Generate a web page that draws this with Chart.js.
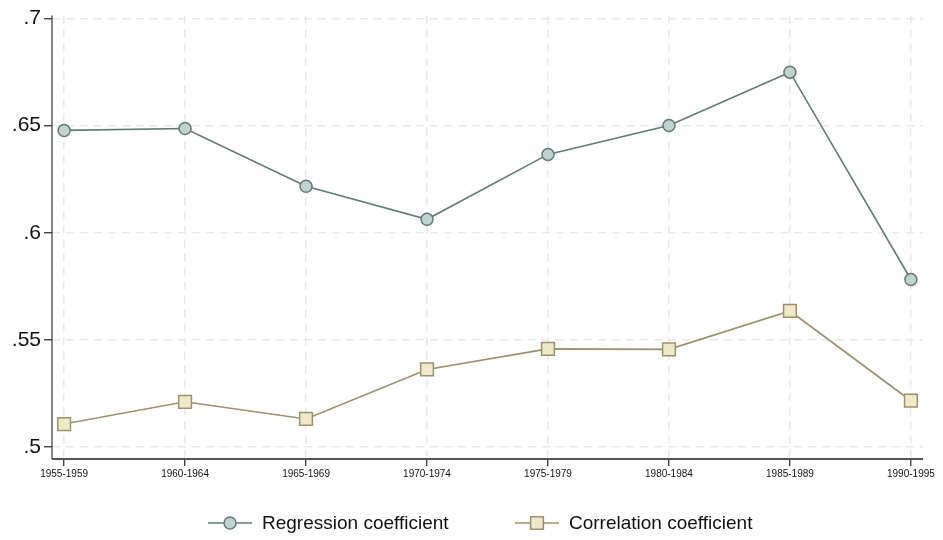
<!DOCTYPE html>
<html>
<head>
<meta charset="utf-8">
<script src="https://cdn.jsdelivr.net/npm/chart.js@4"></script>
<style>
  html, body { margin: 0; padding: 0; background: #fff; }
  #wrap { width: 943px; height: 540px; }
</style>
</head>
<body>
<div id="wrap"><canvas id="canvas" width="943" height="540"></canvas></div>
<script>
// 期間ラベル
var periods = ['1955-1959', '1960-1964', '1965-1969', '1970-1974', '1975-1979', '1980-1984', '1985-1989', '1990-1995'];
// 回帰係数
var regression = [0.6478, 0.6487, 0.6217, 0.6063, 0.6366, 0.6501, 0.6750, 0.5782];
// 相関係数
var correlation = [0.5107, 0.5211, 0.5131, 0.5362, 0.5458, 0.5456, 0.5635, 0.5216];
// y軸の目盛り
var yTicks = [0.5, 0.55, 0.6, 0.65, 0.7];

function toPoints(vals) {
  return vals.map(function (v, i) { return { x: i, y: v }; });
}

function fmt(v) {
  return String(Math.round(v * 100) / 100).replace(/^0\./, '.');
}

// 軸線（実線）と凡例を描く
var extras = {
  id: 'extras',
  afterDatasetsDraw: function (chart) {
    var c = chart.ctx, a = chart.chartArea;
    c.save();
    c.setLineDash([]);
    c.strokeStyle = '#333';
    c.lineWidth = 1.2;
    c.beginPath();
    c.moveTo(a.left, a.top);
    c.lineTo(a.left, a.bottom);
    c.stroke();
    c.strokeStyle = '#555';
    c.lineWidth = 2;
    c.beginPath();
    c.moveTo(a.left, a.bottom);
    c.lineTo(a.right, a.bottom);
    c.stroke();
    c.restore();
  },
  afterDraw: function (chart) {
    var ctx = chart.ctx;
    var y = 523;
    var items = [
      { x: 208, ds: chart.data.datasets[0] },
      { x: 515, ds: chart.data.datasets[1] }
    ];
    ctx.save();
    items.forEach(function (it) {
      var ds = it.ds;
      ctx.strokeStyle = ds.borderColor;
      ctx.lineWidth = 1.6;
      ctx.beginPath();
      ctx.moveTo(it.x, y);
      ctx.lineTo(it.x + 44, y);
      ctx.stroke();
      ctx.fillStyle = ds.pointBackgroundColor;
      ctx.lineWidth = ds.pointBorderWidth;
      ctx.beginPath();
      if (ds.pointStyle === 'circle') {
        ctx.arc(it.x + 22, y, ds.pointRadius, 0, Math.PI * 2);
      } else {
        var s = ds.pointRadius * Math.SQRT1_2;
        ctx.rect(it.x + 22 - s, y - s, 2 * s, 2 * s);
      }
      ctx.fill();
      ctx.stroke();
      ctx.fillStyle = '#111';
      ctx.font = '19px "Liberation Sans", Arial, sans-serif';
      ctx.textBaseline = 'middle';
      ctx.textAlign = 'left';
      ctx.fillText(ds.label, it.x + 54, y + 1);
    });
    ctx.restore();
  }
};

var gridOpts = {
  color: '#e9e9e9',
  lineWidth: 1.5,
  tickColor: '#222',
  tickWidth: 1.2,
  tickBorderDash: []
};

var ctx = document.getElementById('canvas').getContext('2d');
var myChart = new Chart(ctx, {
  type: 'line',
  data: {
    datasets: [{
      label: 'Regression coefficient',
      data: toPoints(regression),
      borderColor: '#5f7b73',
      borderWidth: 1.6,
      pointStyle: 'circle',
      pointRadius: 6,
      pointBorderWidth: 1.5,
      pointBackgroundColor: '#c0d3ce',
      pointBorderColor: '#5f7b73'
    }, {
      label: 'Correlation coefficient',
      data: toPoints(correlation),
      borderColor: '#9c916c',
      borderWidth: 1.6,
      pointStyle: 'rect',
      pointRadius: 9,
      pointBorderWidth: 1.5,
      pointBackgroundColor: '#efe8c9',
      pointBorderColor: '#9c916c'
    }]
  },
  options: {
    responsive: false,
    animation: false,
    layout: { padding: { top: 15, right: 20, bottom: 61, left: 0 } },
    plugins: {
      legend: { display: false },
      tooltip: { enabled: false }
    },
    scales: {
      x: {
        type: 'linear',
        min: -0.1,
        max: 7.1,
        afterBuildTicks: function (axis) {
          axis.ticks = periods.map(function (p, i) { return { value: i }; });
        },
        afterFit: function (axis) { axis.height = 20; },
        ticks: {
          callback: function (v) { return periods[v]; },
          font: { family: '"Liberation Sans", Arial, sans-serif', size: 10 },
          color: '#111',
          maxRotation: 0,
          autoSkip: false,
          padding: 2
        },
        grid: Object.assign({ tickLength: 7 }, gridOpts),
        border: { display: false, dash: [8, 6] }
      },
      y: {
        min: 0.4944,
        max: 0.7014,
        afterBuildTicks: function (axis) {
          axis.ticks = yTicks.map(function (v) { return { value: v }; });
        },
        afterFit: function (axis) { axis.width = 52; },
        ticks: {
          callback: function (v) { return fmt(v); },
          font: { family: '"Liberation Sans", Arial, sans-serif', size: 21 },
          color: '#111',
          padding: 3
        },
        grid: Object.assign({ tickLength: 8 }, gridOpts),
        border: { display: false, dash: [8, 6] }
      }
    }
  },
  plugins: [extras]
});
</script>
</body>
</html>
